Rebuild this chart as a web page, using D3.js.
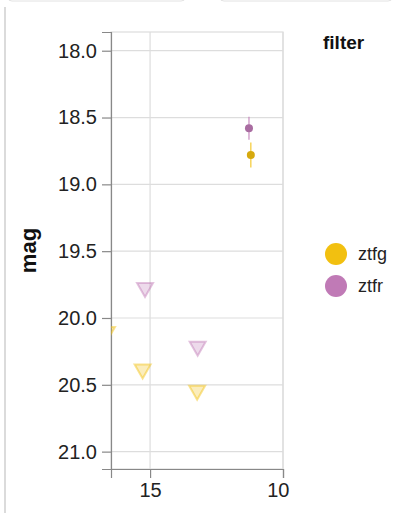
<!DOCTYPE html>
<html>
<head>
<meta charset="utf-8">
<script src="https://cdn.jsdelivr.net/npm/d3@7"></script>
<style>
  html, body { margin: 0; padding: 0; background: #fff; }
  svg { display: block; font-family: "Liberation Sans", Arial, Helvetica, sans-serif; }
</style>
</head>
<body>
<svg id="chart" width="397" height="513"></svg>
<script>
// Light-curve data: days before now (x) versus magnitude (y), per ZTF filter
const filters = ["ztfg", "ztfr"];
const filterColors = ["#f2c010", "#c07ab6"];

// Detections with 1-sigma magnitude errors
const detFilter = ["ztfr", "ztfg"];
const detDays   = [11.28, 11.21];
const detMag    = [18.58, 18.78];
const detErr    = [0.086, 0.094];

// Non-detections (upper limits)
const ulFilter = ["ztfr", "ztfr", "ztfg", "ztfg", "ztfg"];
const ulDays   = [15.19, 13.21, 15.28, 13.23, 16.62];
const ulMag    = [19.79, 20.23, 20.40, 20.56, 20.12];

const xTicks = [15, 10];
const yTicks = [18.0, 18.5, 19.0, 19.5, 20.0, 20.5, 21.0];
const xDomain = [16.47, 10];
const yDomain = [17.86, 21.13];

const svg = d3.select("#chart");

// Page frame around the chart
svg.append("line").attr("x1", 5).attr("x2", 5).attr("y1", 7).attr("y2", 513)
  .attr("stroke", "#cfcfcf").attr("stroke-width", 1.5);
svg.append("path").attr("d", "M8,-6 L8,-2 Q8,1 12,1 L181,1 Q185,1 185,-2 L185,-6")
  .attr("fill", "none").attr("stroke", "#e2e2e2");
svg.append("path").attr("d", "M220,-6 L220,-2 Q220,1 224,1 L388,1 Q392,1 392,-2 L392,-6")
  .attr("fill", "none").attr("stroke", "#e2e2e2");

const plot = { left: 111, right: 283, top: 32, bottom: 469 };

const x = d3.scaleLinear().domain(xDomain).range([plot.left, plot.right]);
const y = d3.scaleLinear().domain(yDomain).range([plot.top, plot.bottom]);
const color = d3.scaleOrdinal().domain(filters).range(filterColors);

// Grid
const grid = svg.append("g");
grid.selectAll("line.gy").data(yTicks).join("line")
  .attr("x1", plot.left).attr("x2", plot.right)
  .attr("y1", d => y(d)).attr("y2", d => y(d))
  .attr("stroke", "#dddddd").attr("stroke-width", 1.2);
grid.selectAll("line.gx").data(xTicks).join("line")
  .attr("y1", plot.top).attr("y2", plot.bottom)
  .attr("x1", d => x(d)).attr("x2", d => x(d))
  .attr("stroke", "#dddddd").attr("stroke-width", 1.2);

// View border
svg.append("rect")
  .attr("x", plot.left).attr("y", plot.top)
  .attr("width", plot.right - plot.left).attr("height", plot.bottom - plot.top)
  .attr("fill", "none").attr("stroke", "#dddddd").attr("stroke-width", 1.2);

// Axes
const yAxis = svg.append("g")
  .attr("transform", `translate(${plot.left},0)`)
  .call(d3.axisLeft(y).tickValues(yTicks).tickFormat(d3.format(".1f")).tickSize(9).tickPadding(5));
const xAxis = svg.append("g")
  .attr("transform", `translate(0,${plot.bottom})`)
  .call(d3.axisBottom(x).tickValues(xTicks).tickFormat(d3.format("d")).tickSize(9).tickPadding(5));

[xAxis, yAxis].forEach(ax => {
  ax.select(".domain").attr("stroke", "#888").attr("stroke-width", 1.2);
  ax.selectAll(".tick line").attr("stroke", "#888").attr("stroke-width", 1.2);
  ax.selectAll(".tick text").attr("fill", "#222")
    .style("font-size", "20px")
    .style("font-family", "\"Liberation Sans\", Arial, sans-serif");
});
// Last x label flush against the right edge
xAxis.selectAll(".tick text").filter(d => d === 10).attr("text-anchor", "end").attr("dx", "0.3em");

// Axis title
svg.append("text")
  .attr("transform", `translate(36,${(plot.top + plot.bottom) / 2}) rotate(-90)`)
  .attr("text-anchor", "middle")
  .style("font-size", "22px").style("font-weight", "bold").attr("fill", "#111")
  .text("mag");

// Marks, clipped to the view
svg.append("clipPath").attr("id", "clip").append("rect")
  .attr("x", plot.left).attr("y", plot.top)
  .attr("width", plot.right - plot.left).attr("height", plot.bottom - plot.top);
const marks = svg.append("g").attr("clip-path", "url(#clip)");

const ulData = ulDays.map((d, i) => ({ days: d, mag: ulMag[i], filter: ulFilter[i] }));
const detData = detDays.map((d, i) => ({ days: d, mag: detMag[i], err: detErr[i], filter: detFilter[i] }));

// Upper limits drawn as downward triangles
const tri = "M -8 -7 L 8 -7 L 0 7 Z";
marks.selectAll("path.ul").data(ulData).join("path")
  .attr("d", tri)
  .attr("transform", d => `translate(${x(d.days)},${y(d.mag)})`)
  .attr("fill", d => color(d.filter)).attr("fill-opacity", 0.28)
  .attr("stroke", d => color(d.filter)).attr("stroke-opacity", 0.45).attr("stroke-width", 2);

// Error bars
marks.selectAll("line.err").data(detData).join("line")
  .attr("x1", d => x(d.days)).attr("x2", d => x(d.days))
  .attr("y1", d => y(d.mag - d.err)).attr("y2", d => y(d.mag + d.err))
  .attr("stroke", d => color(d.filter)).attr("stroke-width", 1.3).attr("stroke-opacity", 0.8);

// Detections
marks.selectAll("circle.det").data(detData).join("circle")
  .attr("cx", d => x(d.days)).attr("cy", d => y(d.mag)).attr("r", 4)
  .attr("fill", d => d3.color(color(d.filter)).darker(0.35));

// Legend
const legend = svg.append("g");
legend.append("text").attr("x", 323).attr("y", 49)
  .style("font-size", "19px").style("font-weight", "bold").attr("fill", "#111")
  .text("filter");
const items = legend.selectAll("g.item").data(filters).join("g")
  .attr("transform", (d, i) => `translate(336,${254 + i * 32})`);
items.append("circle").attr("r", 11).attr("fill", d => color(d));
items.append("text").attr("x", 22).attr("dy", "0.35em")
  .style("font-size", "18px").attr("fill", "#222").text(d => d);
</script>
</body>
</html>
